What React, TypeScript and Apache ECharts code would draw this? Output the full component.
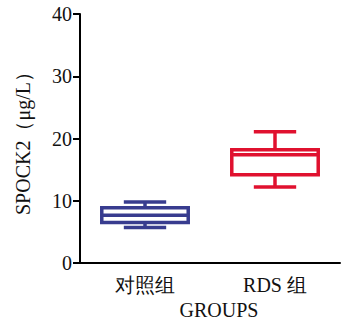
import React, { useEffect, useRef } from "react";
import * as echarts from "echarts";

const categories = ["对照组", "RDS 组"];
// [min, Q1, median, Q3, max]
const boxValues = [
  [5.7, 6.5, 7.7, 8.9, 9.8],
  [12.2, 14.2, 17.4, 18.2, 21.1],
];
const boxColors = ["#383c8f", "#e0112f"];
const yTicks = { min: 0, max: 40, interval: 10 };
const yName = "SPOCK2（μg/L）";
const xName = "GROUPS";

const FONT = "Liberation Serif, Times New Roman, serif";

export default function App() {
  const ref = useRef<HTMLDivElement>(null);
  useEffect(() => {
    if (!ref.current) return;
    const chart = echarts.init(ref.current, null, { renderer: "svg" });
    const data = boxValues.map((v, i) => [i, ...v]);
    chart.setOption({
      animation: false,
      textStyle: { fontFamily: FONT },
      grid: { left: 80, right: 3, top: 14, bottom: 56, containLabel: false },
      xAxis: {
        type: "category",
        data: categories,
        name: xName,
        nameLocation: "middle",
        nameGap: 35,
        nameTextStyle: { fontFamily: FONT, fontSize: 20, color: "#111", padding: [0, 0, 0, 18] },
        axisLine: { lineStyle: { color: "#000", width: 2 } },
        axisTick: { alignWithLabel: true, length: 6, lineStyle: { color: "#000", width: 2 } },
        axisLabel: { fontFamily: FONT, fontSize: 20, color: "#111", margin: 12 },
        splitLine: { show: false },
      },
      yAxis: {
        type: "value",
        min: yTicks.min,
        max: yTicks.max,
        interval: yTicks.interval,
        name: yName,
        nameLocation: "middle",
        nameGap: 47,
        nameRotate: 90,
        nameTextStyle: { fontFamily: FONT, fontSize: 20, color: "#111" },
        axisLine: { show: true, lineStyle: { color: "#000", width: 2 } },
        axisTick: { show: true, length: 7, lineStyle: { color: "#000", width: 2 } },
        axisLabel: { fontFamily: FONT, fontSize: 20, color: "#111", margin: 8 },
        splitLine: { show: false },
      },
      series: [
        {
          type: "custom",
          data,
          encode: { x: 0, y: [1, 2, 3, 4, 5] },
          renderItem: (params: any, api: any) => {
            const idx = api.value(0);
            const vals = [1, 2, 3, 4, 5].map((d) => api.value(d));
            const band = api.size([1, 0])[0];
            const boxW = band * 0.665;
            const capW = boxW * 0.49;
            const pts = vals.map((v) => api.coord([idx, v]));
            const cx = pts[0][0];
            const [pMin, pQ1, pMed, pQ3, pMax] = pts.map((p) => p[1]);
            const color = boxColors[params.dataIndex];
            const lw = 3.5;
            const ls = { stroke: color, lineWidth: lw, fill: null };
            return {
              type: "group",
              children: [
                { type: "line", shape: { x1: cx, y1: pMax, x2: cx, y2: pQ3 }, style: ls },
                { type: "line", shape: { x1: cx, y1: pQ1, x2: cx, y2: pMin }, style: ls },
                { type: "line", shape: { x1: cx - capW / 2, y1: pMax, x2: cx + capW / 2, y2: pMax }, style: ls },
                { type: "line", shape: { x1: cx - capW / 2, y1: pMin, x2: cx + capW / 2, y2: pMin }, style: ls },
                {
                  type: "rect",
                  shape: { x: cx - boxW / 2, y: pQ3, width: boxW, height: pQ1 - pQ3 },
                  style: { stroke: color, lineWidth: lw, fill: "#fff" },
                },
                { type: "line", shape: { x1: cx - boxW / 2, y1: pMed, x2: cx + boxW / 2, y2: pMed }, style: ls },
              ],
            };
          },
        },
      ],
    });
    return () => chart.dispose();
  }, []);
  return <div ref={ref} style={{ width: 343, height: 325, position: "absolute", left: 0, top: 0 }} />;
}
